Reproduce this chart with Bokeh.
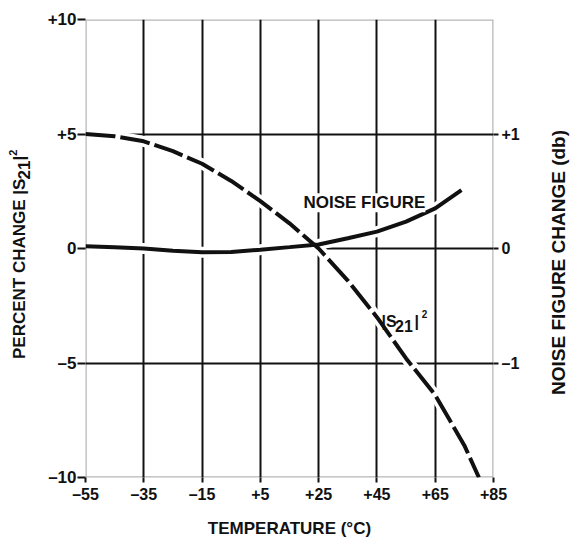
import math
from bokeh.plotting import figure
from bokeh.layouts import row
from bokeh.models import Range1d, LinearAxis, FixedTicker, Label, BoxAnnotation
from bokeh.embed import file_html
from bokeh.resources import INLINE

# ---- data ----
temps_s21 = [-55, -45, -35, -25, -15, -5, 5, 15, 25, 35, 45, 55, 65, 75, 80]
s21_change = [5.0, 4.9, 4.68, 4.25, 3.7, 2.95, 2.07, 1.1, 0.0, -1.4, -3.0, -4.8, -6.4, -8.6, -10.0]

temps_nf = [-55, -45, -35, -25, -15, -5, 5, 15, 25, 35, 45, 55, 65, 74]
nf_change_db = [0.02, 0.01, 0.0, -0.02, -0.032, -0.03, -0.01, 0.012, 0.035, 0.09, 0.147, 0.235, 0.35, 0.51]

x_ticks = [-55, -35, -15, 5, 25, 45, 65, 85]
x_tick_labels = ["–55", "–35", "–15", "+5", "+25", "+45", "+65", "+85"]
y_ticks = [-10, -5, 0, 5, 10]
y_tick_labels = ["–10", "–5", "0", "+5", "+10"]
nf_ticks = [-1, 0, 1]
nf_tick_labels = ["–1", "0", "+1"]

INK = "#111111"
FONT = "Liberation Sans"
TOP, FH, BOT = 19, 458, 61

p = figure(frame_width=408, frame_height=FH,
           x_range=Range1d(-55, 85), y_range=Range1d(-10, 10),
           output_backend="svg", toolbar_location=None,
           min_border_left=47, min_border_right=40, min_border_top=TOP, min_border_bottom=BOT,
           background_fill_color="white", border_fill_color="white")
p.extra_y_ranges = {"nf": Range1d(-2, 2)}
p.outline_line_color = None

# grids
p.xgrid.ticker = FixedTicker(ticks=x_ticks)
p.ygrid.ticker = FixedTicker(ticks=y_ticks)
for g in (p.xgrid, p.ygrid):
    g.grid_line_color = INK
    g.grid_line_width = 2

def style_axis(ax, tick_out, standoff, label_standoff, tick_size, label_size):
    ax.axis_line_color = None
    ax.minor_tick_line_color = None
    ax.major_tick_in = 0
    ax.major_tick_out = tick_out
    ax.major_tick_line_color = INK
    ax.major_tick_line_width = 2
    ax.major_label_standoff = standoff
    ax.major_label_text_font = FONT
    ax.major_label_text_font_style = "bold"
    ax.major_label_text_font_size = tick_size
    ax.major_label_text_color = INK
    ax.axis_label_text_font = FONT
    ax.axis_label_text_font_style = "bold"
    ax.axis_label_text_font_size = label_size
    ax.axis_label_text_color = INK
    ax.axis_label_standoff = label_standoff

xa = p.xaxis[0]
xa.ticker = FixedTicker(ticks=x_ticks)
xa.major_label_overrides = dict(zip(x_ticks, x_tick_labels))
xa.axis_label = "TEMPERATURE (°C)"
style_axis(xa, 5, 3, 13, "16px", "17px")

ya = p.yaxis[0]
ya.ticker = FixedTicker(ticks=y_ticks)
ya.major_label_overrides = dict(zip(y_ticks, y_tick_labels))
style_axis(ya, 8, 1, 0, "17px", "17px")

ra = LinearAxis(y_range_name="nf", ticker=FixedTicker(ticks=nf_ticks))
ra.major_label_overrides = dict(zip(nf_ticks, nf_tick_labels))
style_axis(ra, 5, 3, 0, "16px", "18px")
p.add_layout(ra, "right")

# white halos (break grid lines where curves pass)
p.line(temps_s21, s21_change, line_color="white", line_width=11)
p.line(temps_nf, nf_change_db, y_range_name="nf", line_color="white", line_width=11)

# curves
p.line(temps_nf, nf_change_db, y_range_name="nf", line_color=INK, line_width=4)
p.line(temps_s21, s21_change, line_color=INK, line_width=4, line_dash="30 5")

# frame border on top
p.add_layout(BoxAnnotation(fill_alpha=0, line_color=INK, line_width=2.5, level="overlay"))

def lab(fig, **kw):
    base = dict(text_font=FONT, text_font_style="bold", text_color=INK, text_baseline="alphabetic")
    base.update(kw)
    fig.add_layout(Label(**base))

# in-plot labels
lab(p, x=19.8, y=2.0, text="NOISE FIGURE", text_font_size="17px", background_fill_color="white")
lab(p, x=46.6, y=-3.17, text="|S", text_font_size="16px")
lab(p, x=51.2, y=-3.38, text="21", text_font_size="16px")
lab(p, x=57.9, y=-3.17, text="|", text_font_size="16px")
lab(p, x=60.4, y=-2.86, text="2", text_font_size="10px")

# side strips holding the rotated axis titles (pixel-unit ranges, frames aligned with main frame)
def strip(w):
    s = figure(width=w, height=TOP + FH + BOT, x_range=Range1d(0, w), y_range=Range1d(0, FH),
               output_backend="svg", toolbar_location=None, x_axis_type=None, y_axis_type=None,
               min_border_left=0, min_border_right=0, min_border_top=TOP, min_border_bottom=BOT,
               background_fill_color="white", border_fill_color="white")
    s.outline_line_color = None
    s.grid.visible = False
    return s

rot = math.pi / 2
left = strip(38)
lab(left, x=19, y=117, angle=rot, text="PERCENT CHANGE |S", text_font_size="17px", text_align="left")
lab(left, x=23, y=297.4, angle=rot, text="21", text_font_size="17px", text_align="left")
lab(left, x=19, y=316.3, angle=rot, text="|", text_font_size="17px", text_align="left")
lab(left, x=12, y=321.1, angle=rot, text="2", text_font_size="11px", text_align="left")

right = strip(38)
lab(right, x=25, y=214, angle=rot, text="NOISE FIGURE CHANGE (db)", text_font_size="19px", text_align="center")

layout = row(left, p, right)
open("out.html", "w").write(file_html(layout, INLINE))
